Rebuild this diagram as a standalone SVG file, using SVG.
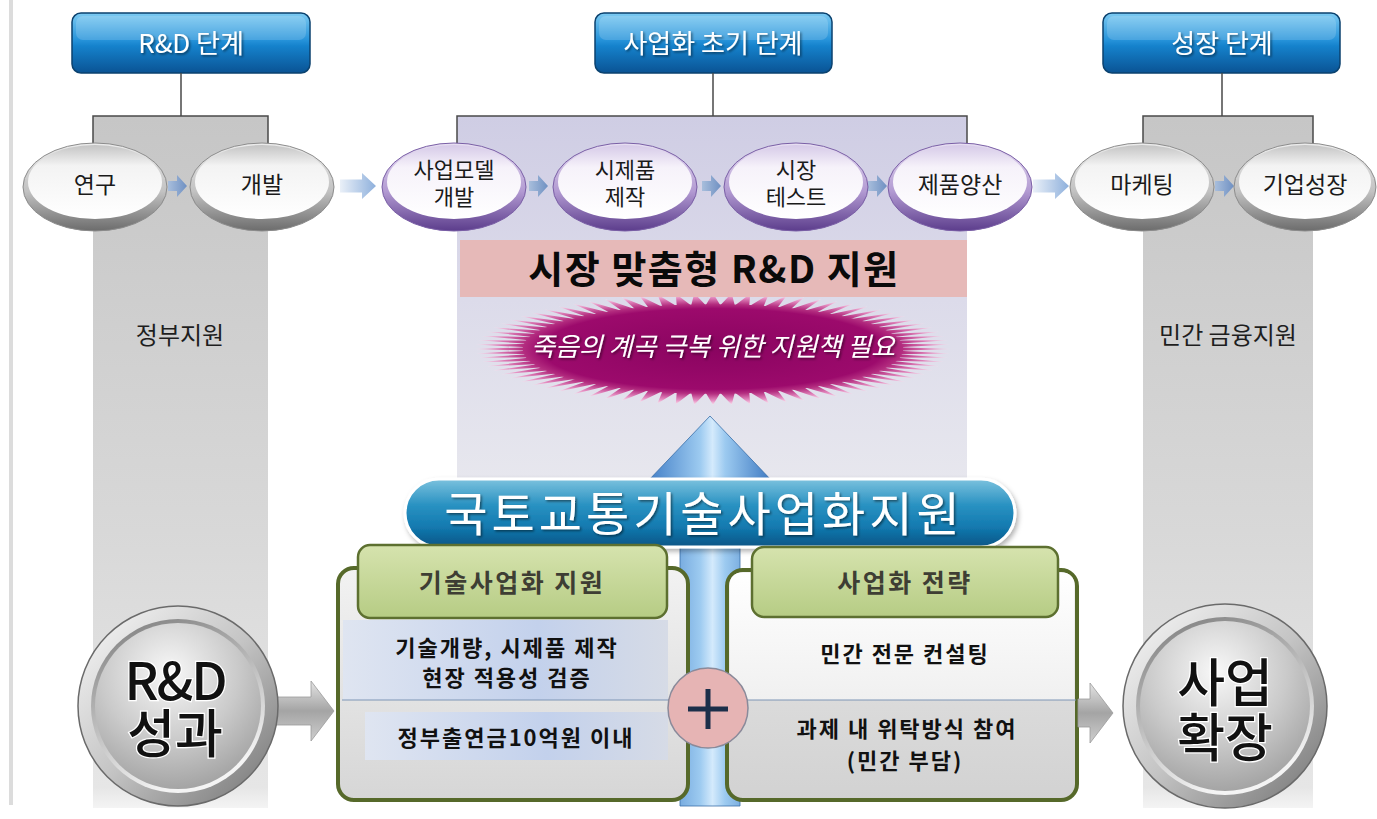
<svg xmlns="http://www.w3.org/2000/svg" width="1377" height="819" viewBox="0 0 1377 819">
<defs>
  <linearGradient id="gHdr" x1="0" y1="0" x2="0" y2="1">
    <stop offset="0" stop-color="#7ccaf2"/><stop offset="0.45" stop-color="#2693da"/><stop offset="0.55" stop-color="#1582cc"/><stop offset="1" stop-color="#0a5394"/>
  </linearGradient>
  <linearGradient id="gCol" x1="0" y1="0" x2="0" y2="1">
    <stop offset="0" stop-color="#c6c6c6"/><stop offset="0.6" stop-color="#d8d8d8"/><stop offset="0.97" stop-color="#e6e6e6"/><stop offset="1" stop-color="#f4f4f4"/>
  </linearGradient>
  <linearGradient id="gLav" x1="0" y1="0" x2="0" y2="1">
    <stop offset="0" stop-color="#cfcde4"/><stop offset="0.5" stop-color="#dcdbea"/><stop offset="1" stop-color="#e7e7ee"/>
  </linearGradient>
  <linearGradient id="gRimG" x1="0" y1="0" x2="0" y2="1">
    <stop offset="0" stop-color="#ececec"/><stop offset="0.55" stop-color="#c2c2c2"/><stop offset="1" stop-color="#6c6c6c"/>
  </linearGradient>
  <linearGradient id="gFaceG" x1="0" y1="0" x2="0" y2="1">
    <stop offset="0" stop-color="#c4c4c4"/><stop offset="0.28" stop-color="#f3f3f3"/><stop offset="1" stop-color="#ffffff"/>
  </linearGradient>
  <linearGradient id="gRimP" x1="0" y1="0" x2="0" y2="1">
    <stop offset="0" stop-color="#e8e0f2"/><stop offset="0.55" stop-color="#b29ad2"/><stop offset="1" stop-color="#5c3d8c"/>
  </linearGradient>
  <linearGradient id="gFaceP" x1="0" y1="0" x2="0" y2="1">
    <stop offset="0" stop-color="#d6cae8"/><stop offset="0.3" stop-color="#f6f2fa"/><stop offset="1" stop-color="#ffffff"/>
  </linearGradient>
  <linearGradient id="gSArr" x1="0" y1="0" x2="1" y2="0">
    <stop offset="0" stop-color="#a8bedc"/><stop offset="1" stop-color="#6f90c2"/>
  </linearGradient>
  <linearGradient id="gLArr" x1="0" y1="0" x2="1" y2="0">
    <stop offset="0" stop-color="#eaf0f8"/><stop offset="1" stop-color="#8eb0dc"/>
  </linearGradient>
  <radialGradient id="gBurst" gradientUnits="userSpaceOnUse" cx="0" cy="0" r="100">
    <stop offset="0" stop-color="#8a0460"/><stop offset="0.72" stop-color="#9c0a6c"/><stop offset="0.8" stop-color="#b42e80"/><stop offset="0.92" stop-color="#e48cc0"/><stop offset="1" stop-color="#fbe4f0"/>
  </radialGradient>
  <linearGradient id="gBlue" x1="0" y1="0" x2="1" y2="0">
    <stop offset="0" stop-color="#3f7cc6"/><stop offset="0.42" stop-color="#9ccaf0"/><stop offset="0.52" stop-color="#d4eafc"/><stop offset="0.62" stop-color="#9ccaf0"/><stop offset="1" stop-color="#3a76c0"/>
  </linearGradient>
  <linearGradient id="gBanner" x1="0" y1="0" x2="0" y2="1">
    <stop offset="0" stop-color="#7cc2de"/><stop offset="0.38" stop-color="#2a92c2"/><stop offset="0.7" stop-color="#137ab0"/><stop offset="1" stop-color="#0a5586"/>
  </linearGradient>
  <linearGradient id="gTab" x1="0" y1="0" x2="0" y2="1">
    <stop offset="0" stop-color="#d6e3ae"/><stop offset="1" stop-color="#b6cc84"/>
  </linearGradient>
  <linearGradient id="gBoxL" x1="0" y1="0" x2="0" y2="1">
    <stop offset="0" stop-color="#f2f2f2"/><stop offset="1" stop-color="#d6d6d6"/>
  </linearGradient>
  <linearGradient id="gBoxRtop" x1="0" y1="0" x2="0" y2="1">
    <stop offset="0" stop-color="#ffffff"/><stop offset="1" stop-color="#f0f0f0"/>
  </linearGradient>
  <linearGradient id="gBoxRbot" x1="0" y1="0" x2="0" y2="1">
    <stop offset="0" stop-color="#e6e6e6"/><stop offset="1" stop-color="#d2d2d2"/>
  </linearGradient>
  <linearGradient id="gBand" x1="0" y1="0" x2="1" y2="0">
    <stop offset="0" stop-color="#dfe5f1"/><stop offset="0.6" stop-color="#c3d1ec"/><stop offset="1" stop-color="#d6dbe6"/>
  </linearGradient>
  <linearGradient id="gRing" x1="0" y1="0" x2="1" y2="1">
    <stop offset="0" stop-color="#fafafa"/><stop offset="0.5" stop-color="#c4c4c4"/><stop offset="1" stop-color="#707070"/>
  </linearGradient>
  <linearGradient id="gBevel" x1="0" y1="0" x2="0.4" y2="1">
    <stop offset="0" stop-color="#7a7a7a"/><stop offset="1" stop-color="#f4f4f4"/>
  </linearGradient>
  <radialGradient id="gFace" cx="0.45" cy="0.3" r="0.75">
    <stop offset="0" stop-color="#f8f8f8"/><stop offset="0.55" stop-color="#cacaca"/><stop offset="1" stop-color="#9e9e9e"/>
  </radialGradient>
  <linearGradient id="gSide" x1="0" y1="0" x2="0" y2="1">
    <stop offset="0" stop-color="#e4e4e4"/><stop offset="0.5" stop-color="#a4a4a4"/><stop offset="1" stop-color="#cfcfcf"/>
  </linearGradient>
  <filter id="ds" x="-10%" y="-20%" width="120%" height="150%">
    <feDropShadow dx="1.5" dy="1.5" stdDeviation="0.8" flood-color="#000" flood-opacity="0.5"/>
  </filter>
  <filter id="sh" x="-5%" y="-10%" width="110%" height="130%">
    <feDropShadow dx="2" dy="3" stdDeviation="2.5" flood-color="#000" flood-opacity="0.3"/>
  </filter>
  <path id="sarr" d="M0,-5 H9 V-11 L19,0 L9,11 V5 H0 Z"/>
  <path id="larr" d="M0,-6.5 H22 V-13 L36,0 L22,13 V6.5 H0 Z"/>
  <polygon id="bq" points="0,0 100,0 77.94,3.06 99.69,7.85 77.46,9.17 98.77,15.64 76.50,15.22 97.24,23.35 75.07,21.17 95.11,30.90 73.18,27.00 92.39,38.27 70.83,32.66 89.10,45.40 68.06,38.11 85.26,52.25 64.85,43.33 80.90,58.78 61.25,48.29 76.04,64.95 57.28,52.95 70.71,70.71 52.95,57.28 64.95,76.04 48.29,61.25 58.78,80.90 43.33,64.85 52.25,85.26 38.11,68.06 45.40,89.10 32.66,70.83 38.27,92.39 27.00,73.18 30.90,95.11 21.17,75.07 23.35,97.24 15.22,76.50 15.64,98.77 9.17,77.46 7.85,99.69 3.06,77.94 0,100"/>
</defs>
<style>
  text { font-family: "Noto Sans CJK KR", "Noto Sans", sans-serif; text-anchor: middle; }
  .hb { fill: url(#gHdr); stroke: #0b426f; stroke-width: 1.5; }
  .hl { fill: #ffffff; opacity: 0.16; }
  .ht { fill: #ffffff; font-size: 26px; filter: url(#ds); }
  .rimG { fill: url(#gRimG); stroke: #8c8c8c; stroke-width: 1; }
  .faceG { fill: url(#gFaceG); }
  .rimP { fill: url(#gRimP); stroke: #7a5fa6; stroke-width: 1; }
  .faceP { fill: url(#gFaceP); }
  .et { font-size: 23px; fill: #1a1a1a; }
  .et2 { font-size: 22px; fill: #1a1a1a; }
  .lbl { font-size: 24px; fill: #1e1e1e; }
  .tab { fill: url(#gTab); stroke: #5d7030; stroke-width: 2.5; }
  .tabt { font-size: 25px; font-weight: 700; fill: #3e3e34; letter-spacing: 2.5px; }
  .box { stroke: #56692a; stroke-width: 4; }
  .bt { font-size: 22px; font-weight: 700; fill: #111111; letter-spacing: 2px; }
  .big { font-size: 52px; font-weight: 500; fill: #111111; stroke: #ffffff; stroke-width: 2.5px; paint-order: stroke; }
  .conn { stroke: #4a4a4a; stroke-width: 1.5; fill: none; }
  .div { stroke: #7f95b5; stroke-width: 1.2; }
</style>

<rect width="1377" height="819" fill="#ffffff"/>
<rect x="9" y="0" width="4" height="805" fill="#dcdcdc"/>

<!-- background panels -->
<g id="panels">
  <rect x="93" y="116" width="175" height="692" fill="url(#gCol)"/>
  <rect x="1143" y="116" width="170" height="692" fill="url(#gCol)"/>
  <rect x="457" y="116" width="510" height="366" fill="url(#gLav)"/>
  <text class="lbl" x="180" y="344">정부지원</text>
  <text class="lbl" x="1228" y="344">민간 금융지원</text>
</g>

<!-- headers -->
<g id="hdr-rnd">
  <rect class="hb" x="72" y="13" width="238" height="60" rx="9"/>
  <rect class="hl" x="76" y="16" width="230" height="24" rx="7"/>
  <text class="ht" x="191" y="53">R&amp;D 단계</text>
</g>
<g id="hdr-early">
  <rect class="hb" x="595" y="13" width="237" height="60" rx="9"/>
  <rect class="hl" x="599" y="16" width="229" height="24" rx="7"/>
  <text class="ht" x="713" y="53">사업화 초기 단계</text>
</g>
<g id="hdr-growth">
  <rect class="hb" x="1103" y="13" width="237" height="60" rx="9"/>
  <rect class="hl" x="1107" y="16" width="229" height="24" rx="7"/>
  <text class="ht" x="1222" y="53">성장 단계</text>
</g>

<!-- connectors -->
<g id="connectors">
  <path class="conn" d="M181,73 V116 M93,145 V116 H268 V145"/>
  <path class="conn" d="M713,73 V116 M457,145 V116 H967 V145"/>
  <path class="conn" d="M1222,73 V116 M1143,145 V116 H1313 V145"/>
  <use href="#sarr" x="168" y="186" fill="url(#gSArr)"/>
  <use href="#larr" x="340" y="186" fill="url(#gLArr)"/>
  <use href="#sarr" x="529" y="186" fill="url(#gSArr)"/>
  <use href="#sarr" x="702" y="186" fill="url(#gSArr)"/>
  <use href="#sarr" x="868" y="186" fill="url(#gSArr)"/>
  <use href="#larr" x="1033" y="186" fill="url(#gLArr)"/>
  <use href="#sarr" x="1215" y="186" fill="url(#gSArr)"/>
</g>

<!-- stage ellipses -->
<g id="n-research">
  <ellipse class="rimG" cx="95" cy="187" rx="72" ry="44"/>
  <ellipse class="faceG" cx="95" cy="182" rx="67" ry="37"/>
  <text class="et" x="95" y="193">연구</text>
</g>
<g id="n-develop">
  <ellipse class="rimG" cx="262" cy="187" rx="72" ry="44"/>
  <ellipse class="faceG" cx="262" cy="182" rx="67" ry="37"/>
  <text class="et" x="262" y="193">개발</text>
</g>
<g id="n-bizmodel">
  <ellipse class="rimP" cx="454" cy="187" rx="72" ry="44"/>
  <ellipse class="faceP" cx="454" cy="182" rx="67" ry="37"/>
  <text class="et2" x="454" y="178">사업모델<tspan x="454" dy="27">개발</tspan></text>
</g>
<g id="n-prototype">
  <ellipse class="rimP" cx="625" cy="187" rx="72" ry="44"/>
  <ellipse class="faceP" cx="625" cy="182" rx="67" ry="37"/>
  <text class="et2" x="625" y="178">시제품<tspan x="625" dy="27">제작</tspan></text>
</g>
<g id="n-market">
  <ellipse class="rimP" cx="796" cy="187" rx="72" ry="44"/>
  <ellipse class="faceP" cx="796" cy="182" rx="67" ry="37"/>
  <text class="et2" x="796" y="178">시장<tspan x="796" dy="27">테스트</tspan></text>
</g>
<g id="n-mass">
  <ellipse class="rimP" cx="960" cy="187" rx="72" ry="44"/>
  <ellipse class="faceP" cx="960" cy="182" rx="67" ry="37"/>
  <text class="et" x="960" y="193">제품양산</text>
</g>
<g id="n-marketing">
  <ellipse class="rimG" cx="1142" cy="187" rx="72" ry="44"/>
  <ellipse class="faceG" cx="1142" cy="182" rx="67" ry="37"/>
  <text class="et" x="1142" y="193">마케팅</text>
</g>
<g id="n-growth">
  <ellipse class="rimG" cx="1305" cy="187" rx="71" ry="44"/>
  <ellipse class="faceG" cx="1305" cy="182" rx="66" ry="37"/>
  <text class="et" x="1305" y="193">기업성장</text>
</g>

<!-- starburst -->
<g id="n-burst">
  <g transform="translate(713,349) scale(2.38,0.56)" fill="url(#gBurst)">
    <ellipse cx="0" cy="0" rx="80" ry="80"/>
    <use href="#bq"/>
    <use href="#bq" transform="scale(-1,1)"/>
    <use href="#bq" transform="scale(1,-1)"/>
    <use href="#bq" transform="scale(-1,-1)"/>
  </g>
  <text x="713" y="356" font-size="26" font-style="italic" fill="#ffffff" filter="url(#ds)">죽음의 계곡 극복 위한 지원책 필요</text>
</g>

<!-- pink band -->
<g id="n-market-rnd">
  <rect x="460" y="240" width="507" height="57" fill="#e6b9b8"/>
  <text x="714" y="283" font-size="38" font-weight="700" fill="#0a0a0a" letter-spacing="1.5">시장 맞춤형 R&amp;D 지원</text>
</g>

<!-- blue up arrow -->
<g id="up-arrow">
  <path d="M710,416 L773,482 H740 V806 H680 V482 H647 Z" fill="url(#gBlue)" stroke="#3a6ea8" stroke-width="0.8"/>
</g>

<!-- banner -->
<g id="n-banner">
  <rect x="405" y="479" width="610" height="68" rx="34" fill="url(#gBanner)" stroke="#ffffff" stroke-width="3" filter="url(#sh)"/>
  <text x="704" y="531" font-size="47" fill="#ffffff" letter-spacing="4" filter="url(#ds)">국토교통기술사업화지원</text>
</g>

<!-- left box -->
<g id="n-techbiz">
  <rect class="box" x="338" y="568" width="350" height="232" rx="16" fill="url(#gBoxL)"/>
  <rect x="343" y="620" width="325" height="80" fill="url(#gBand)"/>
  <line class="div" x1="342" y1="700" x2="686" y2="700"/>
  <rect x="365" y="712" width="303" height="48" fill="url(#gBand)"/>
  <rect class="tab" x="358" y="545" width="309" height="73" rx="12"/>
  <text class="tabt" x="512" y="592">기술사업화 지원</text>
  <text class="bt" x="507" y="656">기술개량, 시제품 제작<tspan x="507" dy="30">현장 적용성 검증</tspan></text>
  <text class="bt" x="516" y="746">정부출연금10억원 이내</text>
</g>

<!-- right box -->
<g id="n-strategy">
  <rect class="box" x="727" y="570" width="350" height="230" rx="16" fill="url(#gBoxRbot)"/>
  <path d="M729.5,700 V586 Q729.5,572.5 743,572.5 H1061 Q1074.5,572.5 1074.5,586 V700 Z" fill="url(#gBoxRtop)"/>
  <line class="div" x1="729" y1="700" x2="1076" y2="700"/>
  <rect class="tab" x="752" y="547" width="306" height="70" rx="12"/>
  <text class="tabt" x="905" y="592">사업화 전략</text>
  <text class="bt" x="905" y="662">민간 전문 컨설팅</text>
  <text class="bt" x="907" y="737">과제 내 위탁방식 참여<tspan x="905" dy="32">(민간 부담)</tspan></text>
</g>

<!-- plus -->
<g id="n-plus">
  <circle cx="708" cy="708" r="40" fill="#e6b4b4" stroke="#8a8a9a" stroke-width="1.5"/>
  <path d="M688,709 H728 M708,689 V729" stroke="#1c2f4a" stroke-width="5"/>
</g>

<!-- side arrows -->
<g id="side-arrows">
  <path d="M268,697 H311 V681 L334,711 L311,741 V725 H268 Z" fill="url(#gSide)" stroke="#9a9a9a" stroke-width="0.8"/>
  <path d="M1078,699 H1090 V683 L1113,713 L1090,743 V727 H1078 Z" fill="url(#gSide)" stroke="#9a9a9a" stroke-width="0.8"/>
</g>

<!-- big circles -->
<g id="n-rnd-result">
  <circle cx="178" cy="706" r="100" fill="url(#gRing)" stroke="#6a6a6a" stroke-width="1.5"/>
  <circle cx="178" cy="706" r="87" fill="url(#gBevel)"/>
  <circle cx="178" cy="706" r="83" fill="url(#gFace)"/>
  <text class="big" x="175" y="700" letter-spacing="-2">R&amp;D<tspan x="175" dy="53" letter-spacing="0">성과</tspan></text>
</g>
<g id="n-expand">
  <circle cx="1225" cy="706" r="102" fill="url(#gRing)" stroke="#6a6a6a" stroke-width="1.5"/>
  <circle cx="1225" cy="706" r="89" fill="url(#gBevel)"/>
  <circle cx="1225" cy="706" r="85" fill="url(#gFace)"/>
  <text class="big" x="1225" y="702">사업<tspan x="1225" dy="55">확장</tspan></text>
</g>
</svg>
